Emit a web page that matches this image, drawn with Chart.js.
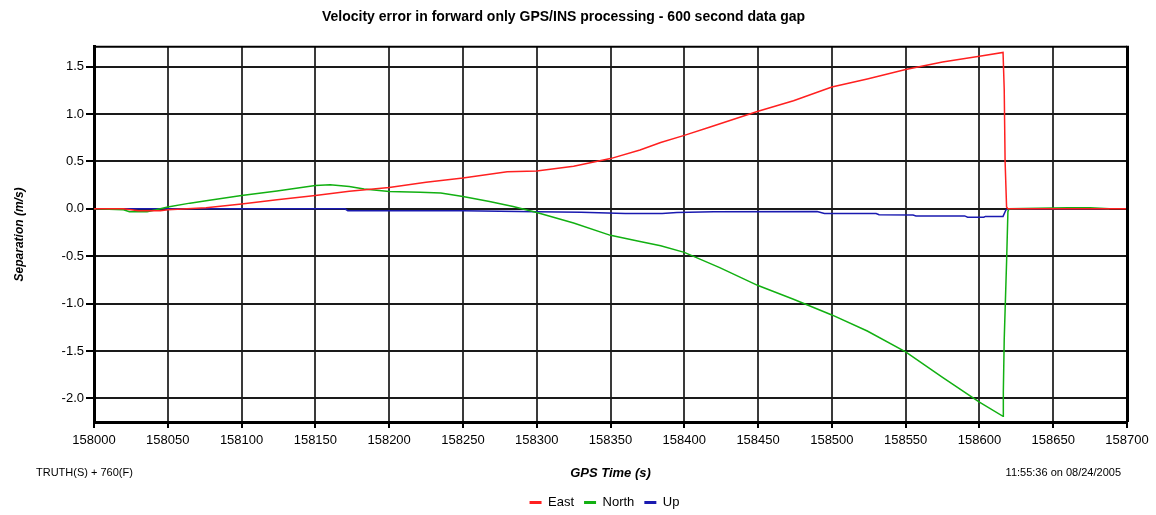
<!DOCTYPE html>
<html>
<head>
<meta charset="utf-8">
<script src="https://cdn.jsdelivr.net/npm/chart.js@4.4.1/dist/chart.umd.min.js"></script>
<style>
  html, body { margin: 0; padding: 0; background: #fff; }
  #wrap { width: 1156px; height: 515px; }
</style>
</head>
<body>
<div id="wrap"><canvas id="chart" width="1156" height="515"></canvas></div>
<script>
/* global Chart */
const xTicks = [158000, 158050, 158100, 158150, 158200, 158250, 158300, 158350,
  158400, 158450, 158500, 158550, 158600, 158650, 158700];
const yTicks = [-2.0, -1.5, -1.0, -0.5, 0.0, 0.5, 1.0, 1.5];

// East
const eastTime = [158000, 158020, 158030, 158045, 158050, 158063, 158076, 158100, 158124,
  158150, 158173, 158200, 158225, 158250, 158280, 158300, 158325, 158350, 158370, 158384,
  158400, 158417, 158450, 158474, 158500, 158524, 158550, 158575, 158600, 158616,
  158616.8, 158617.4, 158618.4, 158619.3, 158650, 158700];
const eastVal = [0, 0, -0.02, -0.02, -0.01, 0, 0.01, 0.05, 0.095,
  0.14, 0.185, 0.225, 0.28, 0.325, 0.39, 0.40, 0.45, 0.53, 0.62, 0.70,
  0.775, 0.86, 1.03, 1.14, 1.285, 1.37, 1.47, 1.55, 1.61, 1.65,
  1.26, 0.5, 0.02, 0, 0, 0];

// North
const northTime = [158000, 158020, 158024, 158036, 158042, 158050, 158065, 158076, 158100,
  158124, 158150, 158160, 158173, 158183, 158200, 158221, 158235, 158250, 158268, 158284,
  158300, 158325, 158350, 158370, 158384, 158400, 158424, 158450, 158474, 158500,
  158524, 158550, 158575, 158600, 158616, 158616.2, 158616.8, 158618.4, 158619.3,
  158620, 158640, 158660, 158675, 158688];
const northVal = [0, -0.01, -0.03, -0.03, -0.01, 0.02, 0.06, 0.085, 0.14,
  0.187, 0.246, 0.254, 0.236, 0.21, 0.183, 0.176, 0.166, 0.13, 0.077, 0.024,
  -0.039, -0.15, -0.28, -0.345, -0.39, -0.46, -0.62, -0.81, -0.955, -1.12,
  -1.29, -1.51, -1.78, -2.04, -2.19, -1.93, -1.38, -0.56, -0.03,
  0, 0.005, 0.01, 0.01, 0];

// Up
const upTime = [158000, 158050, 158100, 158170, 158172, 158250, 158300, 158330, 158360,
  158385, 158395, 158420, 158490, 158495, 158530, 158532, 158555, 158557, 158590,
  158592, 158603, 158604, 158616, 158618, 158620, 158688];
const upVal = [0, 0, 0, 0, -0.02, -0.02, -0.03, -0.035, -0.05,
  -0.05, -0.04, -0.03, -0.028, -0.05, -0.05, -0.063, -0.065, -0.075, -0.075,
  -0.088, -0.088, -0.08, -0.08, -0.01, 0, 0];

const FONT = "'Liberation Sans', Arial, sans-serif";

const pts = (ts, vs) => ts.map((t, i) => ({ x: t, y: vs[i] }));

const frame = {
  id: "frame",
  afterLayout(chart) {
    // legend sits a bit right of the canvas centre in the original
    chart.legend.left += 41;
    chart.legend.right += 41;
  },
  afterDraw(chart) {
    const { ctx, chartArea: a } = chart;
    ctx.save();
    ctx.strokeStyle = "#000";
    ctx.lineWidth = 2;
    ctx.beginPath();
    ctx.moveTo(a.left, a.top);
    ctx.lineTo(a.right, a.top);
    ctx.stroke();
    ctx.lineWidth = 3;
    ctx.beginPath();
    ctx.moveTo(a.right + 0.5, a.top - 1);
    ctx.lineTo(a.right + 0.5, a.bottom);
    ctx.stroke();

    ctx.fillStyle = "#000";
    ctx.font = "11px " + FONT;
    ctx.textBaseline = "middle";
    ctx.textAlign = "left";
    ctx.fillText("TRUTH(S) + 760(F)", 36, 473);
    ctx.textAlign = "right";
    ctx.fillText("11:55:36 on 08/24/2005", 1121, 473);
    ctx.restore();
  },
};

new Chart(document.getElementById("chart"), {
  type: "line",
  data: {
    datasets: [
      { label: "East", data: pts(eastTime, eastVal), borderColor: "#ff2020", backgroundColor: "#ff2020" },
      { label: "North", data: pts(northTime, northVal), borderColor: "#12b012", backgroundColor: "#12b012" },
      { label: "Up", data: pts(upTime, upVal), borderColor: "#1a1ab0", backgroundColor: "#1a1ab0" },
    ],
  },
  options: {
    responsive: false,
    animation: false,
    layout: { padding: { left: 0, right: 29, top: 0, bottom: -4 } },
    elements: {
      line: { borderWidth: 1.5, tension: 0 },
      point: { radius: 0 },
    },
    plugins: {
      title: {
        display: true,
        text: "Velocity error in forward only GPS/INS processing - 600 second data gap",
        color: "#000",
        font: { family: FONT, size: 14, weight: "bold" },
        padding: { top: 9, bottom: 21 },
      },
      legend: {
        position: "bottom",
        labels: {
          color: "#000",
          font: { family: FONT, size: 13 },
          usePointStyle: true,
          pointStyle: "line",
          pointStyleWidth: 12,
          padding: 10,
          generateLabels: (chart) =>
            Chart.defaults.plugins.legend.labels.generateLabels(chart).map((l) => ({ ...l, lineWidth: 3 })),
        },
      },
      tooltip: { enabled: false },
    },
    scales: {
      x: {
        type: "linear",
        min: 158000,
        max: 158700,
        afterBuildTicks: (s) => { s.ticks = xTicks.map((v) => ({ value: v })); },
        afterFit: (s) => { s.height = 64; },
        ticks: {
          autoSkip: false,
          maxRotation: 0,
          padding: 5,
          color: "#000",
          font: { family: FONT, size: 13 },
          callback: (v) => String(v),
        },
        grid: { color: "#3a3a3a", lineWidth: 2, tickLength: 6, tickColor: "#000" },
        border: { color: "#000", width: 3 },
        title: {
          display: true,
          text: "GPS Time (s)",
          color: "#000",
          font: { family: FONT, size: 13, weight: "bold", style: "italic" },
          padding: { top: 4, bottom: 5 },
        },
      },
      y: {
        min: -2.25,
        max: 1.71,
        afterBuildTicks: (s) => { s.ticks = yTicks.map((v) => ({ value: v })); },
        afterFit: (s) => { s.width = 94; },
        ticks: {
          padding: 2,
          color: "#000",
          font: { family: FONT, size: 13 },
          callback: (v) => Number(v).toFixed(1),
        },
        grid: { color: "#1a1a1a", lineWidth: 2, tickLength: 8, tickColor: "#000" },
        border: { color: "#000", width: 3 },
        title: {
          display: true,
          text: "Separation (m/s)",
          color: "#000",
          font: { family: FONT, size: 12, weight: "bold", style: "italic" },
          padding: { top: 12, bottom: 2 },
        },
      },
    },
  },
  plugins: [frame],
});
</script>
</body>
</html>
